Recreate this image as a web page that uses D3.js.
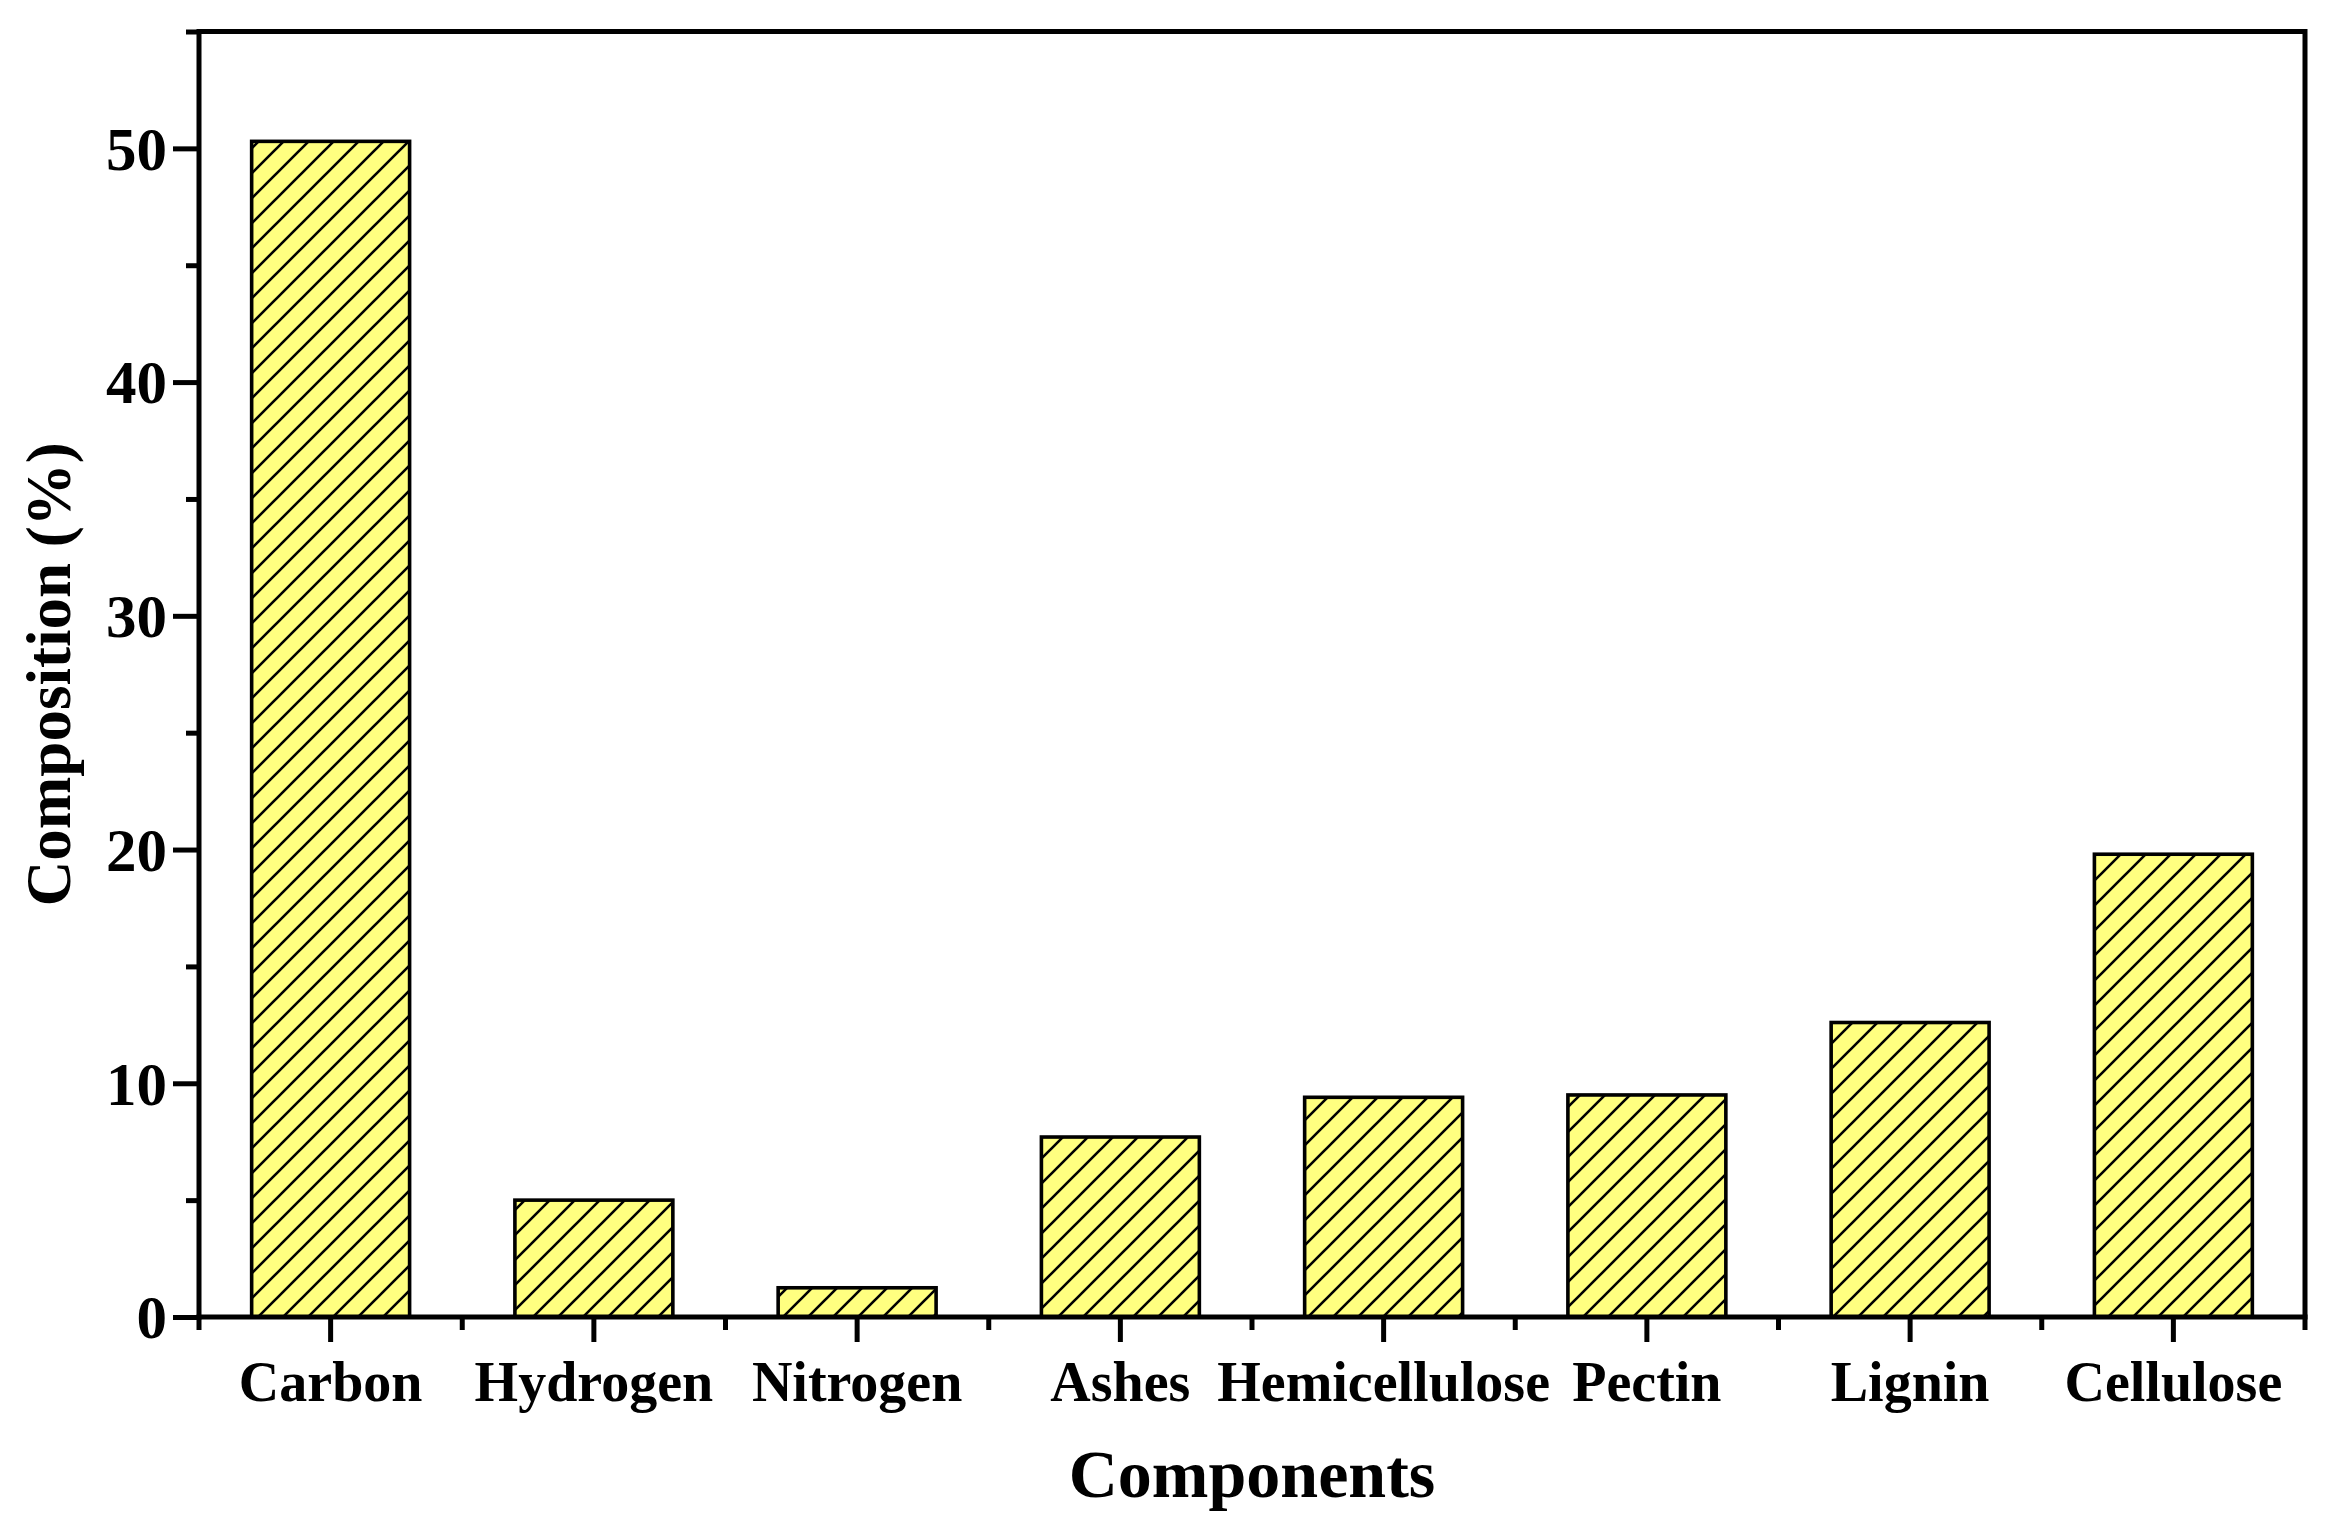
<!DOCTYPE html>
<html>
<head>
<meta charset="utf-8">
<script src="https://cdn.jsdelivr.net/npm/d3@7"></script>
<style>
  html, body { margin: 0; padding: 0; background: #fff; }
  svg { display: block; }
  text { font-family: "Liberation Serif", "Times New Roman", serif; font-weight: bold; fill: #000; }
</style>
</head>
<body>
<svg id="chart" width="2334" height="1539"></svg>
<script>
const categories = ["Carbon", "Hydrogen", "Nitrogen", "Ashes", "Hemicellulose", "Pectin", "Lignin", "Cellulose"];
const values = [50.3, 5.0, 1.25, 7.7, 9.4, 9.5, 12.6, 19.8];
const yMajorTicks = [0, 10, 20, 30, 40, 50];
const yMinorTicks = [5, 15, 25, 35, 45, 55];
const xTitle = "Components";
const yTitle = "Composition (%)";

const W = 2334, H = 1539;
const pLeft = 199, pRight = 2305, pTop = 31.5, pBottom = 1317;

const svg = d3.select("#chart");
svg.append("rect").attr("width", W).attr("height", H).attr("fill", "#fff");

const defs = svg.append("defs");
const pat = defs.append("pattern")
  .attr("id", "hatch").attr("patternUnits", "userSpaceOnUse")
  .attr("width", 25).attr("height", 25);
pat.append("rect").attr("width", 25).attr("height", 25).attr("fill", "#FFFF80");
pat.append("path")
  .attr("d", "M0,25 L25,0 M-6.25,6.25 L6.25,-6.25 M18.75,31.25 L31.25,18.75")
  .attr("stroke", "#000").attr("stroke-width", 2.6);

const x = d3.scaleBand().domain(categories).range([pLeft, pRight]).paddingInner(0.4).paddingOuter(0.2);
const y = d3.scaleLinear().domain([0, 55]).range([pBottom, pTop]);

// bars
svg.append("g").selectAll("rect").data(categories).join("rect")
  .attr("x", d => x(d))
  .attr("width", x.bandwidth())
  .attr("y", (d, i) => y(values[i]))
  .attr("height", (d, i) => y(0) - y(values[i]))
  .attr("fill", "url(#hatch)")
  .attr("stroke", "#000").attr("stroke-width", 3.6);

// frame (top and right)
svg.append("line").attr("x1", pLeft).attr("x2", pRight).attr("y1", pTop).attr("y2", pTop)
  .attr("stroke", "#000").attr("stroke-width", 5);
svg.append("line").attr("x1", pRight).attr("x2", pRight).attr("y1", pTop - 2.5).attr("y2", pBottom)
  .attr("stroke", "#000").attr("stroke-width", 5);

// y axis
const yAxis = svg.append("g").attr("transform", `translate(${pLeft},0)`)
  .call(d3.axisLeft(y).tickValues(yMajorTicks).tickSize(26).tickPadding(6).tickFormat(d3.format("d")));
yAxis.select(".domain").attr("stroke-width", 5).attr("d", `M0,${pTop - 2.5}V${pBottom + 2.5}`);
yAxis.selectAll(".tick line").attr("stroke-width", 5);
yAxis.selectAll(".tick text").attr("font-size", 61).attr("dy", "0.34em")
  .style("font-family", '"Liberation Serif", serif').style("font-weight", "bold");

const yMinor = svg.append("g").attr("transform", `translate(${pLeft},0)`)
  .call(d3.axisLeft(y).tickValues(yMinorTicks).tickSize(13).tickFormat(""));
yMinor.select(".domain").remove();
yMinor.selectAll(".tick line").attr("stroke-width", 5);

// x axis
const xAxis = svg.append("g").attr("transform", `translate(0,${pBottom})`)
  .call(d3.axisBottom(x).tickSize(25).tickPadding(19));
xAxis.select(".domain").attr("stroke-width", 5).attr("d", `M${pLeft - 2.5},0H${pRight + 2.5}`);
xAxis.selectAll(".tick line").attr("stroke-width", 5);
xAxis.selectAll(".tick text").attr("font-size", 56).attr("dy", "0.71em")
  .style("font-family", '"Liberation Serif", serif').style("font-weight", "bold");

// x minor ticks at category boundaries
const boundaries = d3.range(categories.length + 1).map(i => x.range()[0] + i * x.step());
svg.append("g").selectAll("line").data(boundaries).join("line")
  .attr("x1", d => d).attr("x2", d => d)
  .attr("y1", pBottom).attr("y2", pBottom + 13)
  .attr("stroke", "#000").attr("stroke-width", 5);

// titles
svg.append("text").attr("x", (pLeft + pRight) / 2).attr("y", 1497)
  .attr("text-anchor", "middle").attr("font-size", 68).text(xTitle);
svg.append("text")
  .attr("transform", `translate(70,${(pTop + pBottom) / 2}) rotate(-90)`)
  .attr("text-anchor", "middle").attr("font-size", 63).text(yTitle);
</script>
</body>
</html>
